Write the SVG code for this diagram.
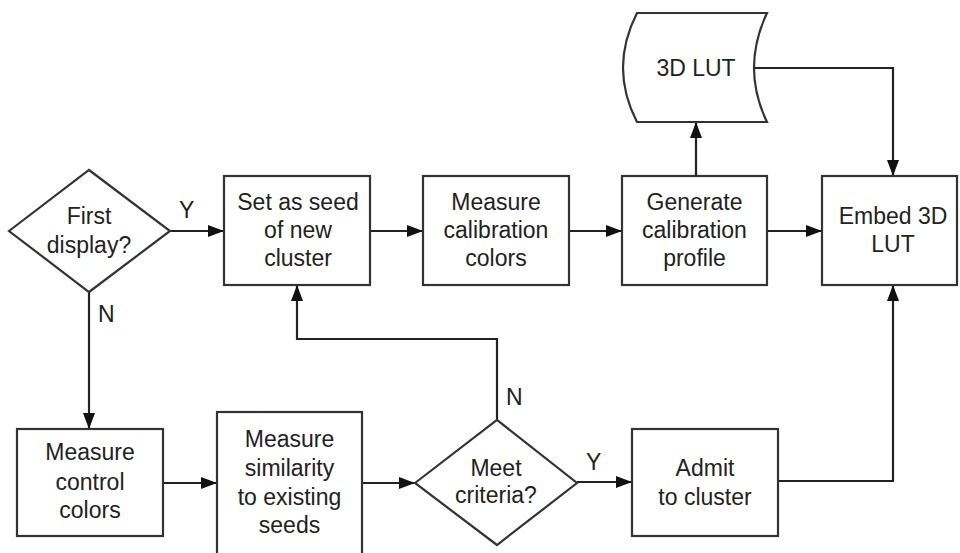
<svg xmlns="http://www.w3.org/2000/svg" width="960" height="553" viewBox="0 0 960 553">
  <defs>
    <marker id="arrow" viewBox="0 0 16 12" refX="16" refY="6" markerWidth="16" markerHeight="12" markerUnits="userSpaceOnUse" orient="auto">
      <path d="M0,0 L16,6 L0,12 Z" fill="#111"/>
    </marker>
    <style>
      .shape { fill: #fff; stroke: #333; stroke-width: 2.2; }
      .link { fill: none; stroke: #222; stroke-width: 2.2; }
      .arr { marker-end: url(#arrow); }
      text { font-family: "Liberation Sans", Arial, sans-serif; font-size: 23px; fill: #222; text-anchor: middle; }
      .lbl { text-anchor: start; }
    </style>
  </defs>

  <rect width="960" height="553" fill="#fff"/>

  <!-- connectors -->
  <g id="connectors">
    <line class="link arr" x1="170" y1="231" x2="224" y2="231"/>
    <line class="link arr" x1="370" y1="231" x2="423" y2="231"/>
    <line class="link arr" x1="569" y1="231" x2="622" y2="231"/>
    <line class="link arr" x1="767" y1="231" x2="822" y2="231"/>
    <line class="link arr" x1="696" y1="176" x2="696" y2="122"/>
    <polyline class="link arr" points="754,68 893,68 893,176"/>
    <line class="link arr" x1="89" y1="292" x2="89" y2="429"/>
    <line class="link arr" x1="163" y1="483" x2="217" y2="483"/>
    <line class="link arr" x1="362" y1="483" x2="415" y2="483"/>
    <line class="link arr" x1="577" y1="482" x2="632" y2="482"/>
    <polyline class="link arr" points="497,420 497,339 297,339 297,285"/>
    <polyline class="link arr" points="778,481 893,481 893,285"/>
    <text class="lbl" x="179" y="218">Y</text>
    <text class="lbl" x="98" y="322">N</text>
    <text class="lbl" x="506" y="405">N</text>
    <text class="lbl" x="586" y="470">Y</text>
  </g>

  <g id="first-display">
    <polygon class="shape" points="9,231 89,170 170,231 89,292"/>
    <text x="89" y="224">First</text>
    <text x="89" y="253">display?</text>
  </g>

  <g id="set-seed">
    <rect class="shape" x="224" y="176" width="146" height="109"/>
    <text x="298" y="210">Set as seed</text>
    <text x="298" y="238">of new</text>
    <text x="298" y="266">cluster</text>
  </g>

  <g id="measure-calibration">
    <rect class="shape" x="423" y="176" width="146" height="109"/>
    <text x="496" y="210">Measure</text>
    <text x="496" y="238">calibration</text>
    <text x="496" y="266">colors</text>
  </g>

  <g id="generate-profile">
    <rect class="shape" x="622" y="176" width="145" height="109"/>
    <text x="694.5" y="210">Generate</text>
    <text x="694.5" y="238">calibration</text>
    <text x="694.5" y="266">profile</text>
  </g>

  <g id="lut-data">
    <path class="shape" d="M637,13 L767,13 Q741,68 767,122 L637,122 Q609,68 637,13 Z"/>
    <text x="696" y="76">3D LUT</text>
  </g>

  <g id="embed-lut">
    <rect class="shape" x="822" y="176" width="135" height="109"/>
    <text x="893" y="224">Embed 3D</text>
    <text x="893" y="252">LUT</text>
  </g>

  <g id="measure-control">
    <rect class="shape" x="17" y="429" width="146" height="107"/>
    <text x="90" y="460">Measure</text>
    <text x="90" y="490">control</text>
    <text x="90" y="518">colors</text>
  </g>

  <g id="measure-similarity">
    <rect class="shape" x="217" y="412" width="145" height="150"/>
    <text x="289.5" y="447">Measure</text>
    <text x="289.5" y="476">similarity</text>
    <text x="289.5" y="505">to existing</text>
    <text x="289.5" y="533">seeds</text>
  </g>

  <g id="meet-criteria">
    <polygon class="shape" points="415,483 497,420 577,483 497,545"/>
    <text x="496" y="476">Meet</text>
    <text x="496" y="503">criteria?</text>
  </g>

  <g id="admit-cluster">
    <rect class="shape" x="632" y="429" width="146" height="107"/>
    <text x="705" y="476">Admit</text>
    <text x="705" y="505">to cluster</text>
  </g>
</svg>
